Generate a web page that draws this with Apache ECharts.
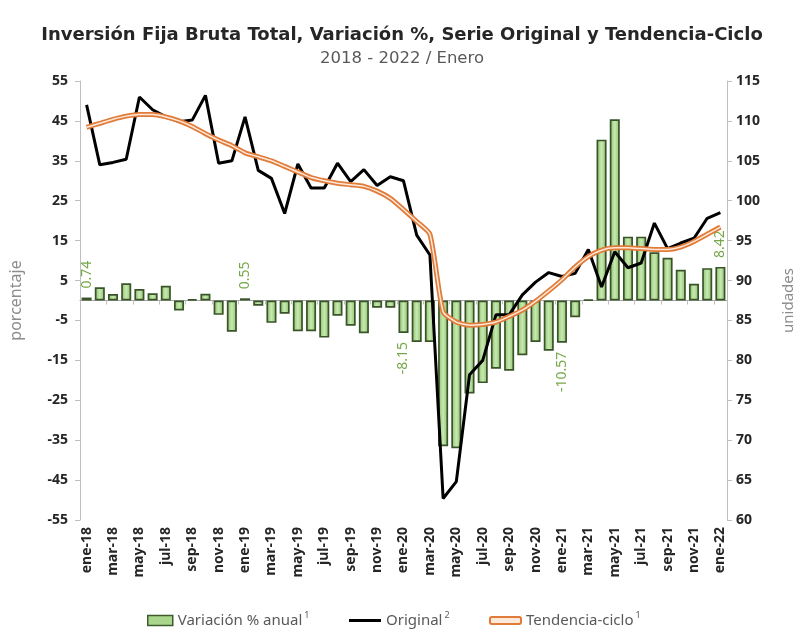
<!DOCTYPE html>
<html>
<head>
<meta charset="utf-8">
<script src="https://cdn.jsdelivr.net/npm/echarts@6/dist/echarts.min.js"></script>
<style>
	html, body {margin: 0; padding: 0; background: #fff;}
	#chart {width: 804px; height: 637px;}
</style>
</head>
<body>
<div id="chart"></div>
<script>
// meses ene-18 .. ene-22
var meses = ['ene-18', 'feb-18', 'mar-18', 'abr-18', 'may-18', 'jun-18', 'jul-18', 'ago-18', 'sep-18', 'oct-18', 'nov-18', 'dic-18',
	'ene-19', 'feb-19', 'mar-19', 'abr-19', 'may-19', 'jun-19', 'jul-19', 'ago-19', 'sep-19', 'oct-19', 'nov-19', 'dic-19',
	'ene-20', 'feb-20', 'mar-20', 'abr-20', 'may-20', 'jun-20', 'jul-20', 'ago-20', 'sep-20', 'oct-20', 'nov-20', 'dic-20',
	'ene-21', 'feb-21', 'mar-21', 'abr-21', 'may-21', 'jun-21', 'jul-21', 'ago-21', 'sep-21', 'oct-21', 'nov-21', 'dic-21',
	'ene-22'];

// variacion % anual (eje izquierdo)
var variacion = [0.74, 3.3, 1.6, 4.3, 2.9, 1.8, 3.7, -2.5, 0.3, 1.7, -3.6, -7.8,
	0.55, -1.3, -5.6, -3.3, -7.7, -7.7, -9.3, -3.8, -6.3, -8.2, -1.8, -1.8,
	-8.15, -10.4, -10.4, -36.5, -37.0, -23.3, -20.7, -17.1, -17.6, -13.7, -10.4, -12.6,
	-10.57, -4.2, 0.2, 40.3, 45.4, 16.0, 16.0, 12.1, 10.7, 7.7, 4.2, 8.1,
	8.42];

// serie original (eje derecho)
var original = [112.0, 104.5, 104.8, 105.2, 113.0, 111.4, 110.5, 109.9, 110.1, 113.2, 104.7, 105.0,
	110.5, 103.8, 102.8, 98.4, 104.6, 101.6, 101.6, 104.7, 102.4, 103.9, 101.9, 103.0,
	102.5, 95.7, 93.2, 62.7, 64.8, 78.2, 80.0, 85.7, 85.7, 88.2, 89.8, 91.0,
	90.5, 90.9, 93.9, 89.2, 93.6, 91.6, 92.2, 97.2, 94.0, 94.7, 95.3, 97.8,
	98.5];

// tendencia-ciclo (eje derecho)
var tendencia = [109.2, 109.7, 110.2, 110.6, 110.8, 110.8, 110.5, 110.0, 109.3, 108.4, 107.6, 106.9,
	106.0, 105.5, 105.0, 104.3, 103.6, 102.9, 102.5, 102.2, 102.0, 101.8, 101.2, 100.3,
	98.9, 97.4, 95.8, 86.1, 84.8, 84.4, 84.5, 84.8, 85.5, 86.3, 87.4, 88.7,
	90.1, 91.7, 93.0, 93.8, 94.1, 94.1, 94.0, 93.9, 93.9, 94.2, 94.9, 95.8,
	96.7];

// barras que llevan etiqueta
var conEtiqueta = [0, 12, 24, 36, 48];

var ticksIzq = [-55, -45, -35, -25, -15, -5, 5, 15, 25, 35, 45, 55];
var supers = {'Variación % anual': '1', 'Original': '2', 'Tendencia-ciclo': '1'};

var fuente = 'Noto Sans';
var verde = '#77a84a';

var barData = [];
variacion.forEach(function(v, i) {
	var item = {value: v};
	if (conEtiqueta.indexOf(i) > -1) {
		item.label = {
			show: true,
			position: v >= 0 ? 'top' : 'bottom',
			rotate: 90,
			align: v >= 0 ? 'left' : 'right',
			verticalAlign: 'middle',
			distance: 9,
			color: verde,
			fontFamily: fuente,
			fontSize: 14,
			formatter: function(p) {
				return p.value.toFixed(2);
			}
		};
	}
	barData.push(item);
});

function leyenda(nombre, left, w, h, icon, estilo) {
	return {
		left: left,
		top: 606,
		itemWidth: w,
		itemHeight: h,
		itemGap: 0,
		data: [{name: nombre, icon: icon, itemStyle: estilo}],
		formatter: function(name) {
			return '{t|' + name + '}{s|' + supers[name] + '}';
		},
		textStyle: {
			rich: {
				t: {fontSize: 15, color: '#595959', fontFamily: fuente},
				s: {fontSize: 9, color: '#595959', fontFamily: fuente, padding: [0, 0, 10, 2]}
			}
		}
	};
}

var xx = echarts.init(document.getElementById('chart'));
xx.setOption({
	animation: false,
	textStyle: {fontFamily: fuente},
	title: [{
		text: 'Inversión Fija Bruta Total, Variación %, Serie Original y Tendencia-Ciclo',
		left: 'center',
		top: 21,
		textStyle: {fontSize: 18, fontWeight: 'bold', color: '#262626', fontFamily: 'DejaVu Sans'}
	}, {
		text: '2018 - 2022 / Enero',
		left: 'center',
		top: 45,
		textStyle: {fontSize: 16.5, fontWeight: 'normal', color: '#595959', fontFamily: 'DejaVu Sans'}
	}],
	grid: {left: 80, right: 71, top: 81, bottom: 117},
	legend: [
		leyenda('Variación % anual', 142, 25, 10, 'rect', {color: '#a9d68c', borderColor: '#3f5b2c', borderWidth: 1.5}),
		leyenda('Original', 344, 32, 3, 'rect', {color: '#000', borderWidth: 0}),
		leyenda('Tendencia-ciclo', 484, 31, 7, 'roundRect', {color: '#fde9d9', borderColor: '#e07b39', borderWidth: 2})
	],
	xAxis: [{
		type: 'category',
		data: meses,
		position: 'bottom',
		axisLine: {show: false, onZero: false},
		axisTick: {show: false},
		axisLabel: {
			interval: 1,
			rotate: 90,
			margin: 7,
			color: '#262626',
			fontWeight: 'bold',
			fontSize: 14,
			fontFamily: fuente
		}
	}, {
		// linea del cero
		type: 'category',
		data: meses,
		position: 'top',
		axisLine: {show: true, onZero: true, onZeroAxisIndex: 0, lineStyle: {color: '#a6a6a6', width: 1}},
		axisTick: {show: true, inside: true, interval: 1, length: 4, lineStyle: {color: '#bfbfbf'}},
		axisLabel: {show: false}
	}],
	yAxis: [{
		type: 'value',
		min: -55,
		max: 55,
		name: 'porcentaje',
		nameLocation: 'middle',
		nameGap: 56,
		nameTextStyle: {color: '#8c8c8c', fontSize: 16, fontFamily: fuente},
		splitLine: {show: false},
		axisLine: {show: true, lineStyle: {color: '#bfbfbf'}},
		axisTick: {show: true, length: 5, customValues: ticksIzq, lineStyle: {color: '#bfbfbf'}},
		axisLabel: {
			customValues: ticksIzq,
			margin: 12,
			color: '#262626',
			fontWeight: 'bold',
			fontSize: 14,
			fontFamily: fuente
		}
	}, {
		type: 'value',
		min: 60,
		max: 115,
		interval: 5,
		position: 'right',
		name: 'unidades',
		nameLocation: 'middle',
		nameGap: 54,
		nameTextStyle: {color: '#8c8c8c', fontSize: 15, fontFamily: fuente},
		splitLine: {show: false},
		axisLine: {show: true, lineStyle: {color: '#bfbfbf'}},
		axisTick: {show: true, length: 5, lineStyle: {color: '#bfbfbf'}},
		axisLabel: {
			margin: 9,
			color: '#262626',
			fontWeight: 'bold',
			fontSize: 14,
			fontFamily: fuente
		}
	}],
	series: [{
		name: 'Variación % anual',
		type: 'bar',
		xAxisIndex: 0,
		yAxisIndex: 0,
		data: barData,
		barCategoryGap: '24%',
		itemStyle: {
			color: new echarts.graphic.LinearGradient(0, 0, 1, 0, [
				{offset: 0, color: '#86c063'},
				{offset: 0.5, color: '#c9e8b3'},
				{offset: 1, color: '#86c063'}
			]),
			borderColor: '#3a5429',
			borderWidth: 1.7
		}
	}, {
		name: 'Original',
		type: 'line',
		xAxisIndex: 0,
		yAxisIndex: 1,
		data: original,
		symbol: 'none',
		lineStyle: {color: '#000', width: 3},
		itemStyle: {color: '#000'}
	}, {
		name: 'Tendencia-ciclo',
		type: 'line',
		xAxisIndex: 0,
		yAxisIndex: 1,
		data: tendencia,
		symbol: 'none',
		smooth: 0.2,
		lineStyle: {color: '#e07b39', width: 5},
		itemStyle: {color: '#e07b39'}
	}, {
		name: 'tc-centro',
		type: 'line',
		xAxisIndex: 0,
		yAxisIndex: 1,
		data: tendencia,
		symbol: 'none',
		smooth: 0.2,
		silent: true,
		lineStyle: {color: '#fde9d9', width: 1.5}
	}]
});
</script>
</body>
</html>
